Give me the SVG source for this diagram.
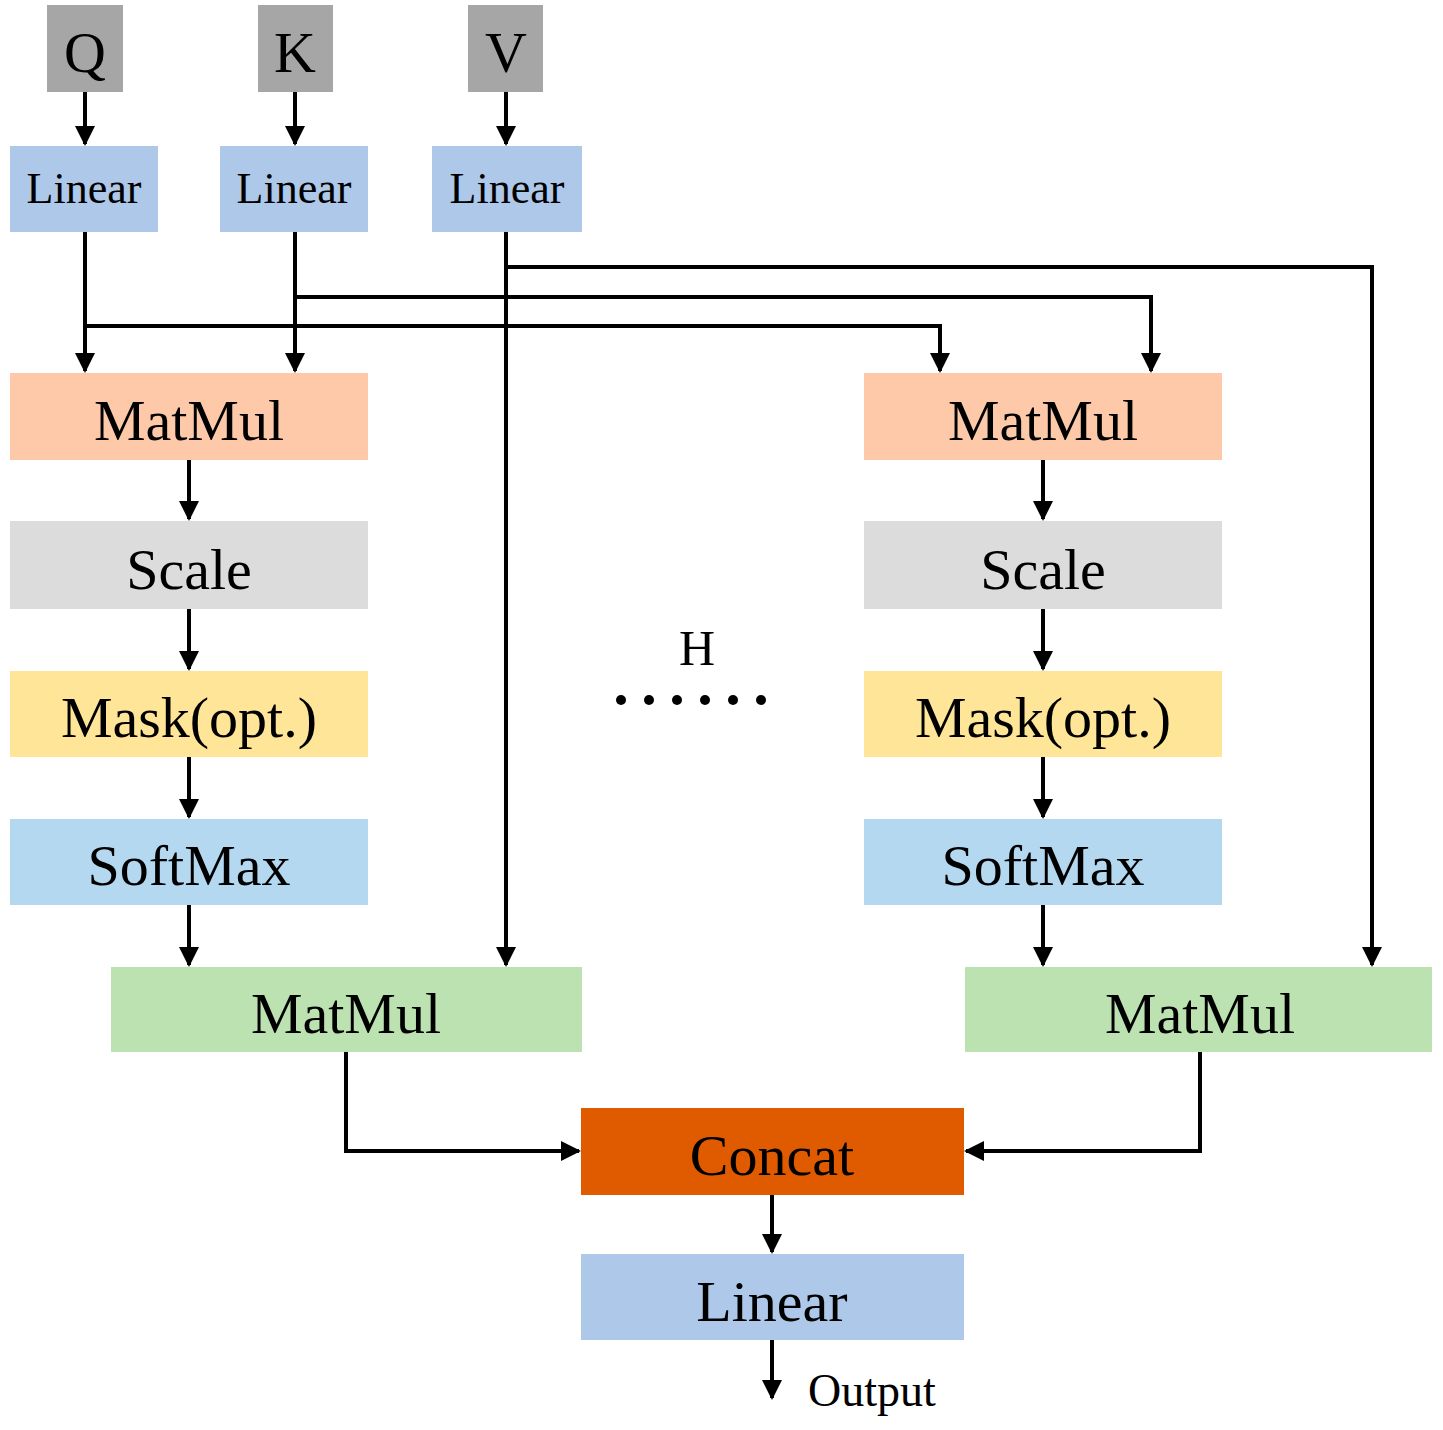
<svg xmlns="http://www.w3.org/2000/svg" width="1443" height="1430" viewBox="0 0 1443 1430">
<style>
text{font-family:"Liberation Serif","Times New Roman",serif;text-anchor:middle;fill:#000}
.l{fill:none;stroke:#000;stroke-width:4}
.a{marker-end:url(#ar)}
.big{font-size:58px}.mid{font-size:44px}
</style>
<defs><marker id="ar" viewBox="0 0 10 10" refX="9" refY="5" markerWidth="5" markerHeight="5" orient="auto" markerUnits="strokeWidth"><path d="M0,0L10,5L0,10z" fill="#000"/></marker></defs>
<rect width="1443" height="1430" fill="#fff"/>
<g id="q"><rect x="47" y="5" width="76" height="87" fill="#a6a6a6"/><text x="85" y="72" class="big">Q</text></g>
<g id="k"><rect x="258" y="5" width="75" height="87" fill="#a6a6a6"/><text x="295" y="72" class="big">K</text></g>
<g id="v"><rect x="468" y="5" width="75" height="87" fill="#a6a6a6"/><text x="506" y="72" class="big">V</text></g>
<g id="lq"><rect x="10" y="146" width="148" height="86" fill="#adc8e8"/><text x="84" y="203" class="mid">Linear</text></g>
<g id="lk"><rect x="220" y="146" width="148" height="86" fill="#adc8e8"/><text x="294" y="203" class="mid">Linear</text></g>
<g id="lv"><rect x="432" y="146" width="150" height="86" fill="#adc8e8"/><text x="507" y="203" class="mid">Linear</text></g>
<g id="mm1"><rect x="10" y="373" width="358" height="87" fill="#fdc9a9"/><text x="189" y="440" class="big">MatMul</text></g>
<g id="sc1"><rect x="10" y="521" width="358" height="88" fill="#dcdcdc"/><text x="189" y="589" class="big">Scale</text></g>
<g id="mk1"><rect x="10" y="671" width="358" height="86" fill="#fee597"/><text x="189" y="737" class="big">Mask(opt.)</text></g>
<g id="sm1"><rect x="10" y="819" width="358" height="86" fill="#b4d8f0"/><text x="189" y="885" class="big">SoftMax</text></g>
<g id="mg1"><rect x="111" y="967" width="471" height="85" fill="#bbe2b0"/><text x="346" y="1033" class="big">MatMul</text></g>
<g id="mm2"><rect x="864" y="373" width="358" height="87" fill="#fdc9a9"/><text x="1043" y="440" class="big">MatMul</text></g>
<g id="sc2"><rect x="864" y="521" width="358" height="88" fill="#dcdcdc"/><text x="1043" y="589" class="big">Scale</text></g>
<g id="mk2"><rect x="864" y="671" width="358" height="86" fill="#fee597"/><text x="1043" y="737" class="big">Mask(opt.)</text></g>
<g id="sm2"><rect x="864" y="819" width="358" height="86" fill="#b4d8f0"/><text x="1043" y="885" class="big">SoftMax</text></g>
<g id="mg2"><rect x="965" y="967" width="467" height="85" fill="#bbe2b0"/><text x="1200" y="1033" class="big">MatMul</text></g>
<g id="concat"><rect x="581" y="1108" width="383" height="87" fill="#e05a00"/><text x="772" y="1175" class="big">Concat</text></g>
<g id="lo"><rect x="581" y="1254" width="383" height="86" fill="#adc8e8"/><text x="772" y="1321" class="big">Linear</text></g>
<g id="h"><text x="697" y="665" font-size="50">H</text>
<g fill="#000"><circle cx="621" cy="700" r="5"/><circle cx="649" cy="700" r="5"/><circle cx="677" cy="700" r="5"/><circle cx="705" cy="700" r="5"/><circle cx="733" cy="700" r="5"/><circle cx="761" cy="700" r="5"/></g></g>
<text x="872" y="1406" font-size="46">Output</text>
<g id="connectors">
<path class="l a" d="M85 92V144"/><path class="l a" d="M295 92V144"/><path class="l a" d="M506 92V144"/>
<path class="l a" d="M85 232V371"/><path class="l a" d="M295 232V371"/><path class="l a" d="M506 232V965"/>
<path class="l a" d="M85 326H940V371"/><path class="l a" d="M295 297H1151V371"/><path class="l a" d="M506 267H1372V965"/>
<path class="l a" d="M189 460V519"/><path class="l a" d="M189 609V669"/><path class="l a" d="M189 757V817"/><path class="l a" d="M189 905V965"/>
<path class="l a" d="M1043 460V519"/><path class="l a" d="M1043 609V669"/><path class="l a" d="M1043 757V817"/><path class="l a" d="M1043 905V965"/>
<path class="l a" d="M346 1052V1151H579"/><path class="l a" d="M1200 1052V1151H966"/>
<path class="l a" d="M772 1195V1252"/><path class="l a" d="M772 1340V1398"/>
</g>
</svg>
